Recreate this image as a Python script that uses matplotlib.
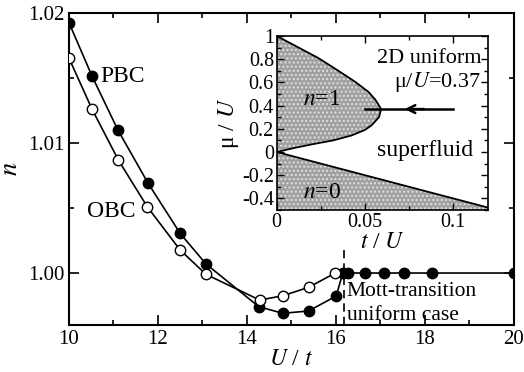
import numpy as np
import matplotlib
matplotlib.use("Agg")
import matplotlib.pyplot as plt
from matplotlib.ticker import MultipleLocator, FuncFormatter

plt.rcParams['font.family'] = ['Liberation Serif', 'DejaVu Serif']
plt.rcParams['mathtext.fontset'] = 'stix'
plt.rcParams['axes.unicode_minus'] = False

# main panel data
u_pbc = [10.0, 10.52, 11.1, 11.78, 12.5, 13.08, 14.27, 14.81, 15.39, 16.01,
         16.16, 16.27, 16.67, 17.09, 17.53, 18.17, 20.0]
n_pbc = [1.01925, 1.01513, 1.0110, 1.0069, 1.00305, 1.0007, 0.99741, 0.9969,
         0.99708, 0.99823, 1.0, 1.0, 1.0, 1.0, 1.0, 1.0, 1.0]
u_obc = [10.0, 10.52, 11.11, 11.76, 12.5, 13.08, 14.29, 14.81, 15.39, 15.99]
n_obc = [1.01652, 1.01259, 1.00869, 1.0051, 1.00177, 0.9999, 0.99792,
         0.99825, 0.9989, 1.0]
u_mott = 16.18

# inset: Mott lobe boundary (t/U, mu/U), upper branch then lower branch
t_upper = [0.0, 0.01, 0.0236, 0.035, 0.0443, 0.0519, 0.056, 0.0592]
mu_upper = [1.0, 0.92, 0.81, 0.70, 0.607, 0.52, 0.45, 0.37]
t_lower = [0.058, 0.0538, 0.05, 0.0425, 0.032, 0.0217, 0.01, 0.0]
mu_lower = [0.30, 0.23, 0.19, 0.143, 0.10, 0.071, 0.035, 0.0]
# n=0 boundary
t_zero = [0.0, 0.12]
mu_zero = [0.0, -0.48]
mu_arrow = 0.37

fig = plt.figure(figsize=(5.24, 3.72), dpi=100)
ax = fig.add_axes([0.1317, 0.1263, 0.8483, 0.8387])

ax.plot(u_pbc, n_pbc, '-o', color='black', lw=1.2, ms=7.5, mfc='black', mec='black', zorder=3)
ax.plot(u_obc, n_obc, '-o', color='black', lw=1.2, ms=7.5, mfc='white', mec='black', zorder=4)
ax.plot([u_mott, u_mott], [0.996, 1.0019], '--', color='black', lw=1.2, dashes=(5, 3))

ax.set_xlim(10, 20)
ax.set_ylim(0.996, 1.02)
ax.xaxis.set_major_locator(MultipleLocator(2))
ax.xaxis.set_minor_locator(MultipleLocator(1))
ax.yaxis.set_major_locator(MultipleLocator(0.01))
ax.yaxis.set_minor_locator(MultipleLocator(0.005))
ax.yaxis.set_major_formatter(FuncFormatter(lambda v, p: '%.2f' % v))
ax.tick_params(which='both', direction='in', top=True, right=True, labelsize=15, width=1.2)
ax.tick_params(which='major', length=7)
ax.tick_params(which='minor', length=3.5)
for s in ax.spines.values():
    s.set_linewidth(1.5)
ax.set_xlabel('$U$ / $t$', fontsize=17, labelpad=0)
ax.set_ylabel('$n$', fontsize=19)
ax.yaxis.set_label_coords(-0.105, 0.5)

ax.text(10.7, 1.0151, 'PBC', fontsize=17, va='center')
ax.text(10.4, 1.0047, 'OBC', fontsize=17, va='center')
ax.text(16.25, 0.99855, 'Mott-transition', fontsize=15.5, va='center')
ax.text(16.25, 0.99675, 'uniform case', fontsize=15.5, va='center')

# inset
ax2 = fig.add_axes([0.528, 0.4355, 0.404, 0.4677])
lobe_t = t_upper + t_lower
lobe_mu = mu_upper + mu_lower
ax2.fill(lobe_t, lobe_mu, facecolor='#a0a0a0', edgecolor='#e0e0e0', hatch='....', lw=0)
ax2.plot(lobe_t, lobe_mu, color='black', lw=1.3)
ax2.fill_between(t_zero, [-0.5, -0.5], mu_zero, facecolor='#a0a0a0', edgecolor='#e0e0e0', hatch='....', lw=0)
ax2.plot(t_zero, mu_zero, color='black', lw=1.3)
ax2.plot([0.05, 0.1], [mu_arrow, mu_arrow], color='black', lw=1.8)
ax2.annotate('', xy=(0.071, mu_arrow), xytext=(0.085, mu_arrow),
             arrowprops=dict(arrowstyle='->', lw=1.8, color='black', mutation_scale=14))

ax2.set_xlim(0, 0.12)
ax2.set_ylim(-0.5, 1.0)
ax2.xaxis.set_major_locator(MultipleLocator(0.05))
ax2.xaxis.set_minor_locator(MultipleLocator(0.025))
ax2.yaxis.set_major_locator(MultipleLocator(0.2))
ax2.yaxis.set_minor_locator(MultipleLocator(0.1))
ax2.xaxis.set_major_formatter(FuncFormatter(lambda v, p: '%g' % round(v, 3)))
ax2.yaxis.set_major_formatter(FuncFormatter(lambda v, p: '%g' % round(v, 2)))
ax2.tick_params(which='both', direction='in', top=True, right=True, labelsize=14.5, width=1.0, pad=2)
ax2.tick_params(which='major', length=5)
ax2.tick_params(which='minor', length=3)
for s in ax2.spines.values():
    s.set_linewidth(1.2)
ax2.set_xlabel('$t$ / $U$', fontsize=17, labelpad=0)
ax2.set_ylabel('μ / $U$', fontsize=17, labelpad=1)

ax2.text(0.015, 0.45, '$n$=1', fontsize=17, va='center')
ax2.text(0.015, -0.35, '$n$=0', fontsize=17, va='center')
ax2.text(0.084, 0.01, 'superfluid', fontsize=17, va='center', ha='center')
ax2.text(0.116, 0.81, '2D uniform', fontsize=16, va='center', ha='right')
ax2.text(0.116, 0.60, 'μ/$U$=0.37', fontsize=16, va='center', ha='right')

fig.savefig('out.png', dpi=100)
